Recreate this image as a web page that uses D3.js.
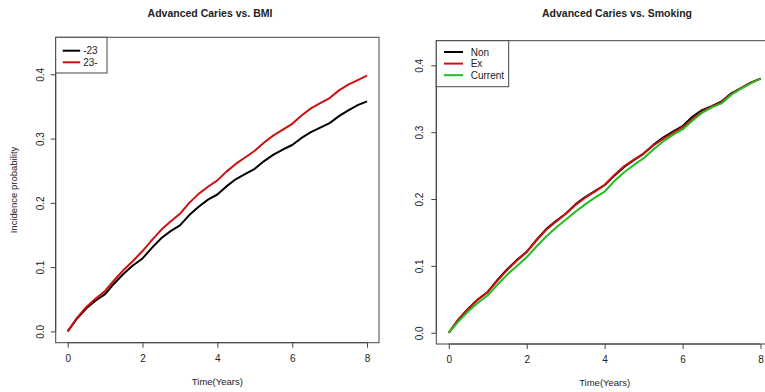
<!DOCTYPE html>
<html><head><meta charset="utf-8">
<script src="https://cdn.jsdelivr.net/npm/d3@7"></script>
<style>
html,body{margin:0;padding:0;background:#fff;}
svg{display:block;font-family:"Liberation Sans",Arial,sans-serif;}
</style></head>
<body>
<script>
// ---------- DATA ----------
const times = [0,0.25,0.5,0.75,1,1.25,1.5,1.75,2,2.25,2.5,2.75,3,3.25,3.5,3.75,4,4.25,4.5,4.75,5,5.25,5.5,5.75,6,6.25,6.5,6.75,7,7.25,7.5,7.75,8];

const bmiLow  = [0,0.020,0.036,0.048,0.058,0.075,0.090,0.103,0.1135,0.130,0.145,0.156,0.165,0.181,0.194,0.205,0.213,0.226,0.237,0.245,0.253,0.265,0.275,0.283,0.290,0.301,0.310,0.317,0.324,0.335,0.344,0.352,0.358];
const bmiHigh = [0,0.021,0.038,0.051,0.063,0.080,0.096,0.110,0.125,0.142,0.158,0.171,0.183,0.200,0.214,0.225,0.235,0.249,0.261,0.271,0.281,0.294,0.305,0.314,0.323,0.336,0.347,0.355,0.363,0.375,0.384,0.391,0.398];

const smokeNon     = [0,0.020,0.036,0.050,0.061,0.079,0.095,0.109,0.121,0.139,0.155,0.167,0.178,0.192,0.203,0.212,0.221,0.235,0.248,0.258,0.268,0.281,0.292,0.301,0.309,0.323,0.333,0.339,0.346,0.358,0.366,0.374,0.380];
const smokeEx      = [0,0.020,0.036,0.050,0.061,0.078,0.094,0.108,0.121,0.138,0.154,0.166,0.178,0.191,0.202,0.211,0.221,0.236,0.249,0.259,0.268,0.280,0.290,0.299,0.307,0.320,0.331,0.338,0.345,0.357,0.366,0.374,0.380];
const smokeCurrent = [0,0.017,0.032,0.045,0.056,0.072,0.087,0.100,0.113,0.129,0.144,0.157,0.169,0.181,0.192,0.202,0.211,0.227,0.240,0.251,0.261,0.274,0.286,0.296,0.304,0.317,0.329,0.337,0.343,0.356,0.365,0.373,0.380];

const xTicks = [0,2,4,6,8];
const yTicks = [0,0.1,0.2,0.3,0.4];
const bmiLabels = ["-23","23-"];
const smokeLabels = ["Non","Ex","Current"];
const titles = ["Advanced Caries vs. BMI","Advanced Caries vs. Smoking"];

// ---------- DRAW ----------
const W = 765, H = 392;
const svg = d3.select("body").append("svg").attr("width",W).attr("height",H);
const axisCol = "#444";

function panel(cfg){
  const g = svg.append("g");
  const x = d3.scaleLinear().domain([-0.32,8.32]).range([cfg.left,cfg.right]);
  const y = d3.scaleLinear().domain([-0.04*cfg.ymax, cfg.ymax*1.04]).range([cfg.bottom,cfg.top]);

  // series
  const line = d3.line().x((d,i)=>x(times[i])).y(d=>y(d));
  cfg.series.forEach(s=>{
    g.append("path").attr("d",line(s.values)).attr("fill","none")
      .attr("stroke",s.color).attr("stroke-width",2).attr("stroke-linejoin","round");
  });

  // box
  g.append("rect").attr("x",cfg.left).attr("y",cfg.top)
    .attr("width",cfg.right-cfg.left).attr("height",cfg.bottom-cfg.top)
    .attr("fill","none").attr("stroke",axisCol).attr("stroke-width",1);

  // x axis (R style)
  const xa = d3.axisBottom(x).tickValues(xTicks).tickSize(5).tickPadding(7).tickFormat(d3.format("d"));
  const gx = g.append("g").attr("transform",`translate(0,${cfg.bottom})`).call(xa);
  gx.select(".domain").attr("d",`M${x(0)},0H${x(8)}`).attr("stroke",axisCol);
  gx.selectAll("line").attr("stroke",axisCol);
  gx.selectAll("text").attr("font-size",10).attr("fill","#222").attr("font-family","Liberation Sans");

  const ya = d3.axisLeft(y).tickValues(yTicks).tickSize(5).tickFormat(d3.format(".1f"));
  const gy = g.append("g").attr("transform",`translate(${cfg.left},0)`).call(ya);
  gy.select(".domain").attr("d",`M0,${y(0)}V${y(0.4)}`).attr("stroke",axisCol);
  gy.selectAll("line").attr("stroke",axisCol);
  gy.selectAll("text").attr("font-size",10).attr("fill","#222").attr("font-family","Liberation Sans")
    .attr("text-anchor","middle").attr("dy",null).attr("x",0).attr("y",0)
    .attr("transform",`translate(${cfg.yLabX-cfg.left},0) rotate(-90)`)
    .attr("dominant-baseline","central");

  // title
  g.append("text").attr("x",cfg.titleX).attr("y",17).attr("text-anchor","middle")
    .attr("font-size",10.5).attr("font-weight","bold").attr("fill","#222").text(cfg.title);
  // x label
  g.append("text").attr("x",(x(0)+x(8))/2).attr("y",cfg.xLabY).attr("text-anchor","middle")
    .attr("font-size",9.5).attr("fill","#222").text("Time(Years)");
  if(cfg.yLabel){
    g.append("text").attr("transform",`translate(${cfg.yTitleX},${(cfg.top+cfg.bottom)/2}) rotate(-90)`)
      .attr("text-anchor","middle").attr("font-size",9.5).attr("fill","#222").text(cfg.yLabel);
  }

  // legend
  const L = cfg.legend;
  g.append("rect").attr("x",cfg.left).attr("y",cfg.top).attr("width",L.w).attr("height",L.h)
    .attr("fill","#fff").attr("stroke",axisCol).attr("stroke-width",1);
  cfg.series.forEach((s,i)=>{
    const yy = cfg.top + L.y0 + i*L.dy;
    g.append("line").attr("x1",cfg.left+L.x1).attr("x2",cfg.left+L.x2).attr("y1",yy).attr("y2",yy)
      .attr("stroke",s.color).attr("stroke-width",2);
    g.append("text").attr("x",cfg.left+L.tx).attr("y",yy).attr("dominant-baseline","central")
      .attr("font-size",10).attr("fill","#222").text(s.label);
  });
}

const RED = "#cc1010", GREEN = "#1fbf1f";

panel({left:55.7,right:379,top:37.3,bottom:342.7,ymax:0.44,
  yLabX:40,titleX:210,xLabY:385,yTitleX:17,yLabel:"Incidence probability",title:titles[0],
  series:[{values:bmiLow,color:"#000",label:bmiLabels[0]},{values:bmiHigh,color:RED,label:bmiLabels[1]}],
  legend:{w:51.3,h:35.7,y0:13.4,dy:11.6,x1:7,x2:24.5,tx:27.5}});

panel({left:436.3,right:773,top:40.7,bottom:344,ymax:0.42,
  yLabX:419.7,titleX:617,xLabY:386,yTitleX:null,yLabel:null,title:titles[1],
  series:[{values:smokeNon,color:"#000",label:smokeLabels[0]},{values:smokeEx,color:RED,label:smokeLabels[1]},{values:smokeCurrent,color:GREEN,label:smokeLabels[2]}],
  legend:{w:72.4,h:46,y0:11.3,dy:11.6,x1:7.7,x2:26.7,tx:34.4}});
</script>
</body></html>
